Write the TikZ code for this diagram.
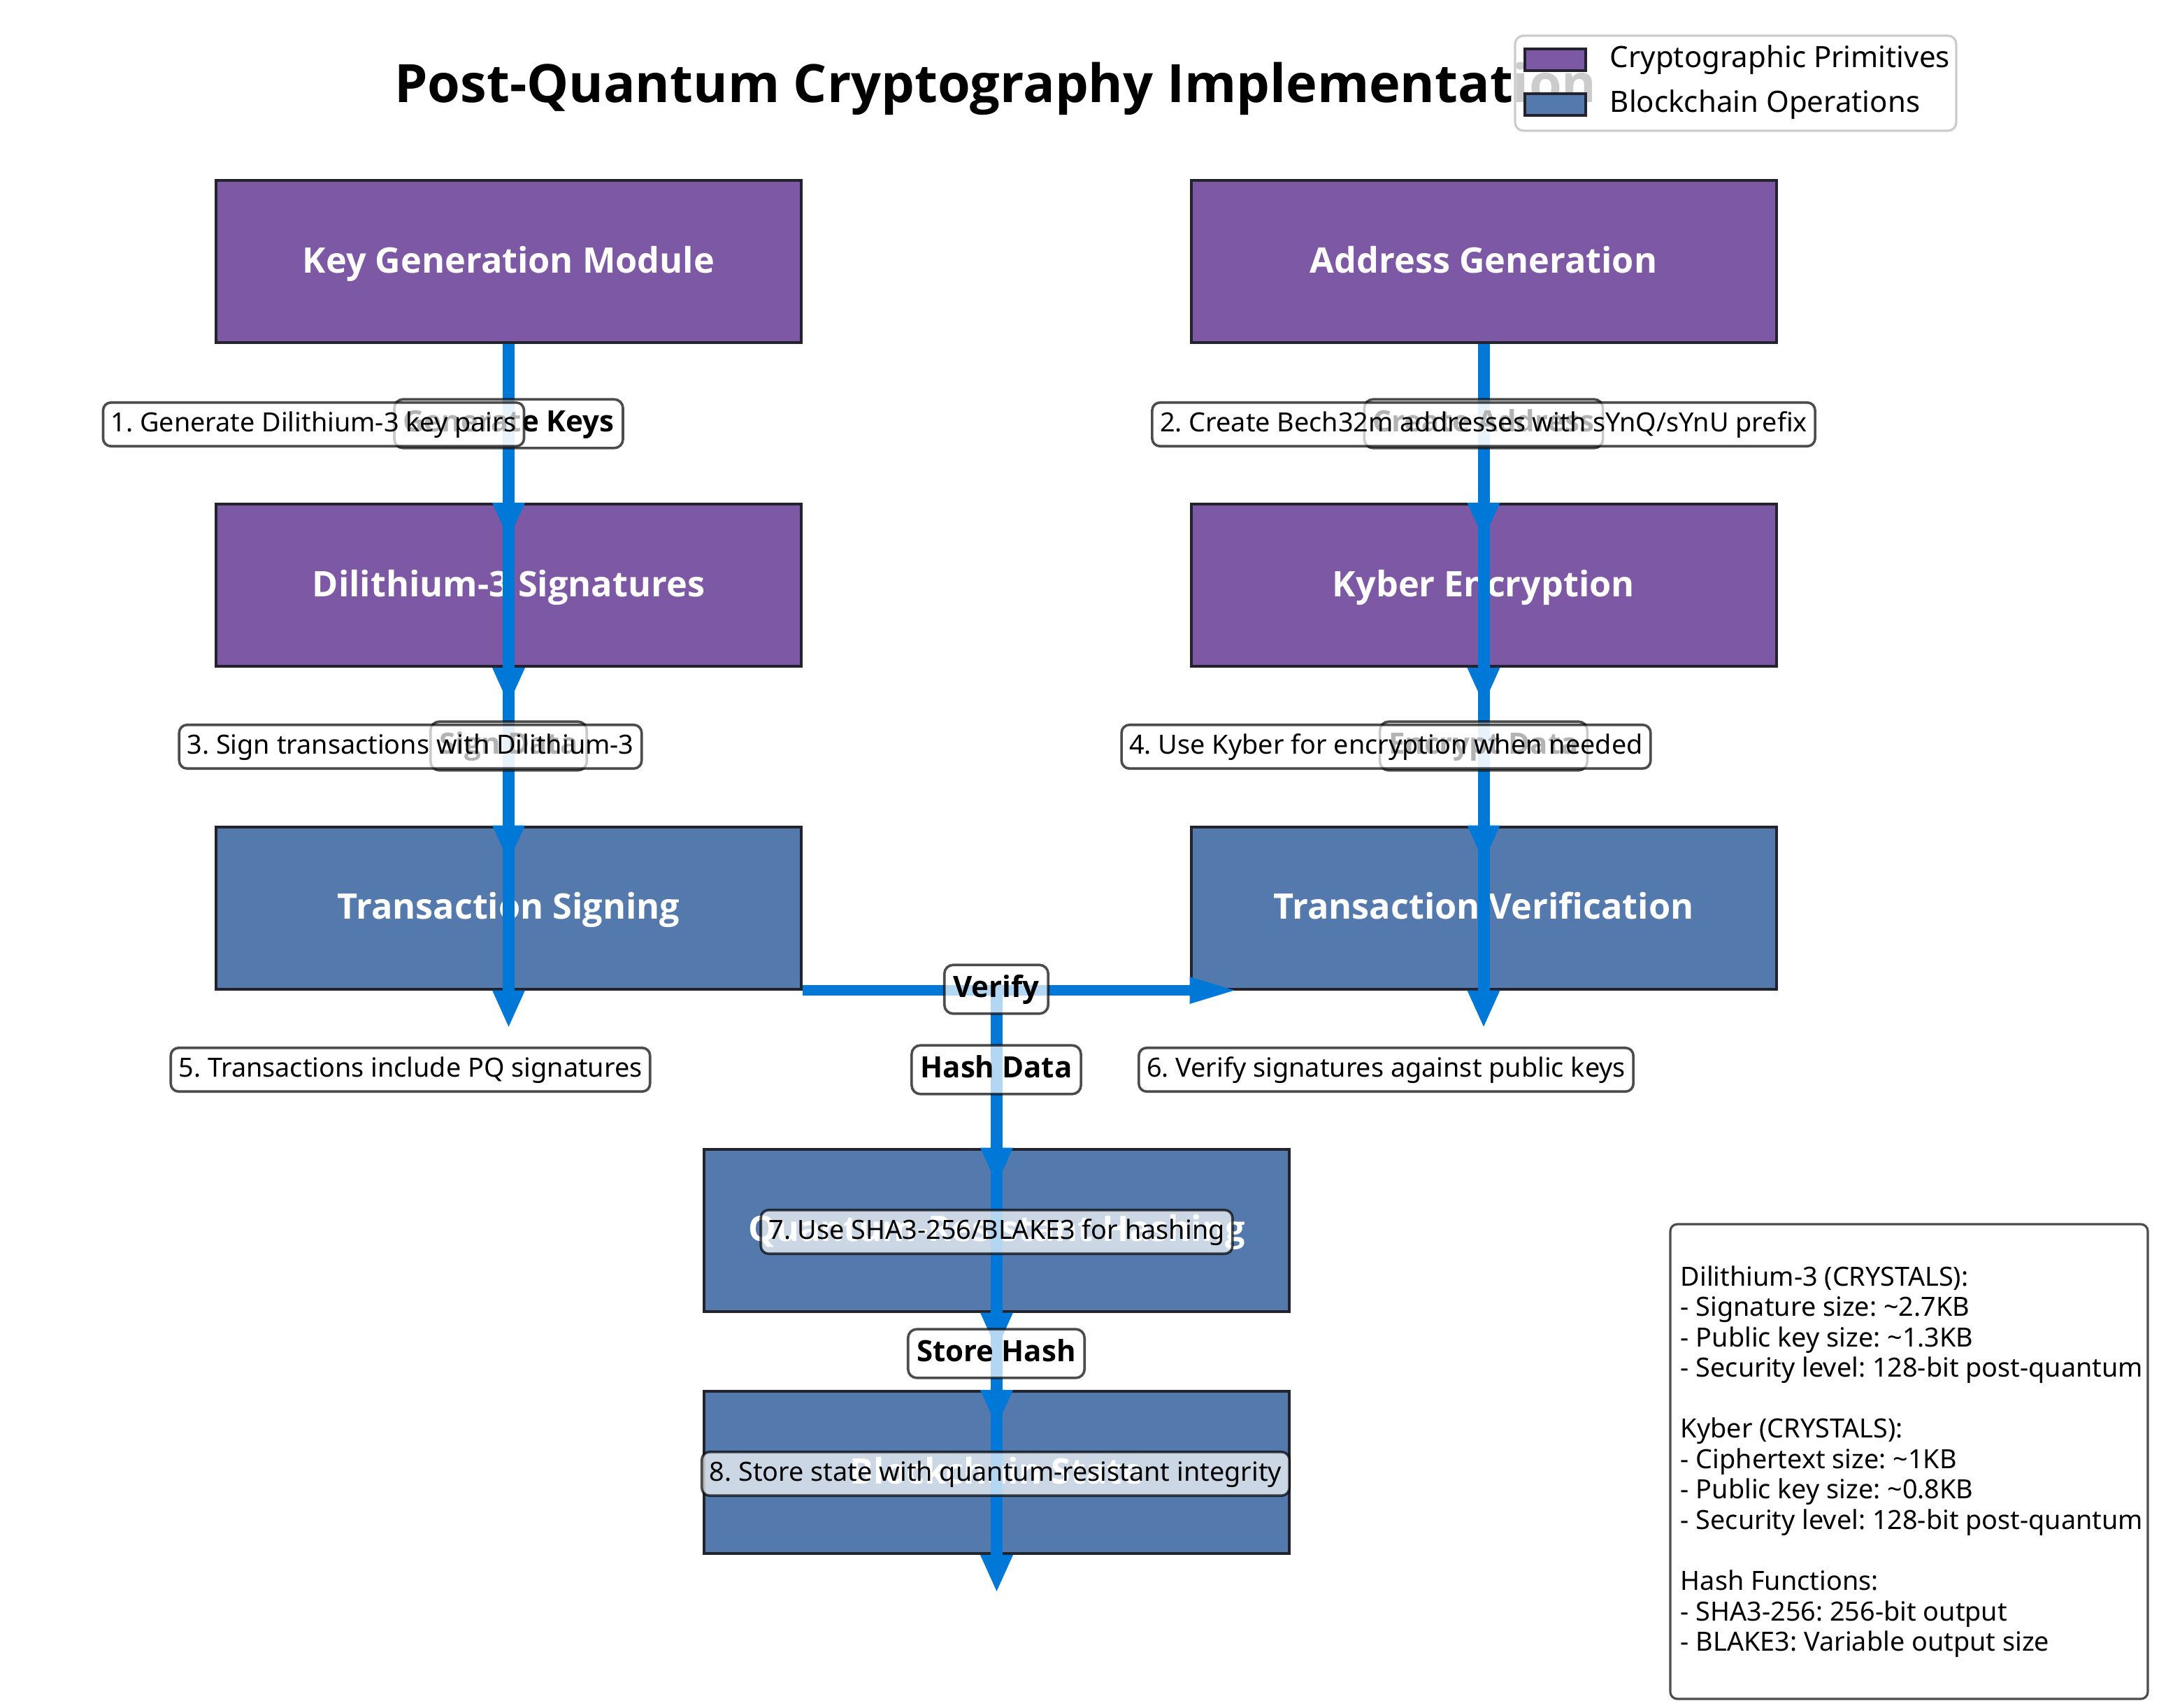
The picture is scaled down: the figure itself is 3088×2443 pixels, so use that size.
\documentclass[tikz,border=0pt]{standalone}
\usepackage{fontspec}
\IfFontExistsTF{Open Sans Bold}
  {\setmainfont{Noto Sans}[BoldFont={Open Sans Bold}]}
  {\IfFontExistsTF{NotoSans-Bold.ttf}
    {\setmainfont{Noto Sans}[BoldFont={NotoSans-Bold.ttf}]}
    {\setmainfont{Noto Sans}[BoldFont={Noto Sans}, BoldFeatures={FakeBold=2.2, LetterSpace=3}]}}
\frenchspacing
\definecolor{purp}{RGB}{124,88,165}
\definecolor{bops}{RGB}{84,121,173}
\definecolor{flowc}{RGB}{0,120,215}
\definecolor{edgec}{RGB}{35,35,45}
\newcommand\dhead[1]{\fill[flowc] (#1) ++(-23.5,0) -- ++(47,0) -- ++(-23.5,52) -- cycle;}
\begin{document}
\frenchspacing
\begin{tikzpicture}[x=0.25pt,y=-0.25pt,
  mbox/.style={draw=edgec, line width=1pt, minimum width=209.25pt, minimum height=58pt, inner sep=0pt, text=white, font=\bfseries\fontsize{12.6}{15}\selectfont, text height=9.5pt, text depth=1.5pt},
  prim/.style={mbox, fill=purp},
  bop/.style={mbox, fill=bops},
  elbl/.style={fill=white, fill opacity=0.7, draw=black, draw opacity=0.7, text opacity=1, rounded corners=3.15pt, line width=0.9pt, font=\bfseries\fontsize{10.5}{12.6}\selectfont, text height=8.4pt, text depth=2.73pt, inner xsep=3.15pt, inner ysep=3.15pt},
  slbl/.style={elbl, font=\fontsize{9.45}{11.3}\selectfont, text height=7.56pt, text depth=2.46pt, inner xsep=2.8pt, inner ysep=2.8pt, rounded corners=2.8pt},
  vflow/.style={draw=flowc, line width=4.25pt},
  hflow/.style={draw=flowc, line width=3.55pt},
  legtxt/.style={anchor=west, inner sep=0pt, font=\fontsize{10.5}{12.6}\selectfont},
]
\fill[white] (0,0) rectangle (3088,2443);
\useasboundingbox (0,0) rectangle (3088,2443);

% title
\node[anchor=base, inner sep=0pt, font=\bfseries\fontsize{18.9}{22}\selectfont] (title) at (1424,146) {Post-Quantum Cryptography Implementation};

% legend
\draw[draw=black!20, fill=white, fill opacity=0.8, rounded corners=3pt, line width=0.8pt] (2167,51) rectangle (2798,187);
\draw[draw=edgec, fill=purp, line width=1pt] (2181,70) rectangle (2268,101);
\draw[draw=edgec, fill=bops, line width=1pt] (2181,134) rectangle (2268,165);
\node[legtxt] (lg1) at (2302,86) {Cryptographic Primitives};
\node[legtxt] (lg2) at (2302,150) {Blockchain Operations};

% boxes
\node[prim] (kg) at (727.5,374) {Key Generation Module};
\node[prim] (ag) at (2122,374) {Address Generation};
\node[prim] (dil) at (727.5,837) {Dilithium-3 Signatures};
\node[prim] (kyb) at (2122,837) {Kyber Encryption};
\node[bop] (ts) at (727.5,1298.5) {Transaction Signing};
\node[bop] (tv) at (2122,1298.5) {Transaction Verification};
\node[bop] (qrh) at (1425.5,1759.5) {Quantum-Resistant Hashing};
\node[bop] (bs) at (1425.5,2106) {Blockchain State};

% connectors
\draw[vflow] (kg.south) -- (dil.north) -- (dil.south) -- (ts.north) -- (ts.south);
\draw[vflow] (ag.south) -- (kyb.north) -- (kyb.south) -- (tv.north) -- (tv.south);
\draw[hflow] (ts.south east) -- (tv.south west);
\coordinate (vj) at (ts.south -| qrh.north);
\draw[vflow] (vj) -- (qrh.north) -- (qrh.south) -- (bs.north) -- (bs.south);
\dhead{dil.north}\dhead{dil.south}\dhead{ts.north}\dhead{ts.south}
\dhead{kyb.north}\dhead{kyb.south}\dhead{tv.north}\dhead{tv.south}
\dhead{qrh.north}\dhead{qrh.south}\dhead{bs.north}\dhead{bs.south}
\fill[flowc] (tv.south west) ++(0,-19.5) -- ++(0,39) -- ++(64,-19.5) -- cycle;

% edge labels
\node[elbl] (lk) at (727.5,606) {Generate Keys};
\node[elbl] (la) at (2122,606) {Create Address};
\node[elbl] (ls) at (727.5,1067) {Sign Data};
\node[elbl] (le) at (2122,1067) {Encrypt Data};
\node[elbl] (lv) at (1425,1415) {Verify};
\node[elbl] (lh) at (1425,1530) {Hash Data};
\node[elbl] (lst) at (1425,1936) {Store Hash};

% step labels
\node[slbl] (s1) at (448.5,607) {1. Generate Dilithium-3 key pairs};
\node[slbl] (s2) at (2122,607) {2. Create Bech32m addresses with sYnQ/sYnU prefix};
\node[slbl] (s3) at (587,1068) {3. Sign transactions with Dilithium-3};
\node[slbl] (s4) at (1982.5,1068) {4. Use Kyber for encryption when needed};
\node[slbl] (s5) at (587,1530) {5. Transactions include PQ signatures};
\node[slbl] (s6) at (1982.5,1530) {6. Verify signatures against public keys};
\node[slbl] (s7) at (1425.5,1762) {7. Use SHA3-256/BLAKE3 for hashing};
\node[slbl] (s8) at (1424,2108) {8. Store state with quantum-resistant integrity};

% info box
\node[draw=black!70, fill=white, line width=0.8pt, rounded corners=2.5pt, minimum width=170.75pt, minimum height=169.75pt, inner sep=0pt] (info) at (2730.5,2090.5) {};
\node[anchor=north west, inner sep=0pt, align=left, font=\fontsize{9.45}{10.88}\selectfont] (infotxt) at (2403,1808)
{\strut Dilithium-3 (CRYSTALS):\\
- Signature size: \textasciitilde 2.7KB\\
- Public key size: \textasciitilde 1.3KB\\
- Security level: 128-bit post-quantum\\[10.88pt]
Kyber (CRYSTALS):\\
- Ciphertext size: \textasciitilde 1KB\\
- Public key size: \textasciitilde 0.8KB\\
- Security level: 128-bit post-quantum\\[10.88pt]
Hash Functions:\\
- SHA3-256: 256-bit output\\
- BLAKE3: Variable output size\strut};
\end{tikzpicture}
\end{document}
